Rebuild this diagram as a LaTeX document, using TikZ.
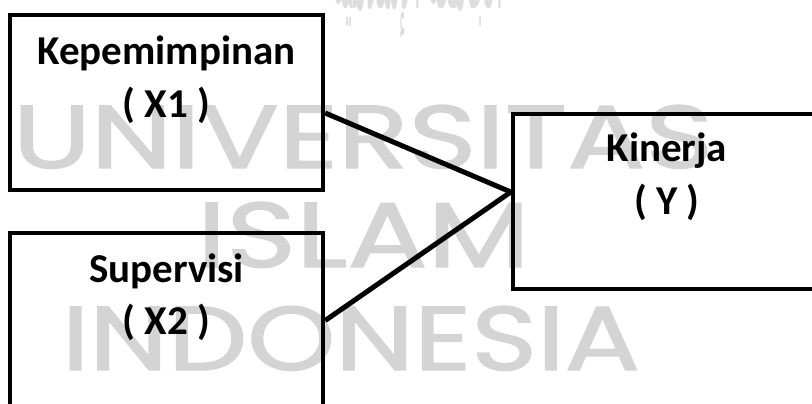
\documentclass[tikz,border=0pt]{standalone}
\usepackage{fontspec}
\setmainfont{Carlito}
\newfontfamily\wmfont[FakeBold=1.5]{Poppins}
\newfontfamily\arabicfont[Script=Arabic]{DejaVu Sans}
\TeXXeTstate=1
\usetikzlibrary{positioning, calc}
\definecolor{wmGray}{HTML}{D4D4D4}
\definecolor{arGray}{HTML}{DDDDDD}

\begin{document}
\begin{tikzpicture}[x=0.5pt, y=-0.5pt,
      var/.style={draw, line width=2.2pt, minimum width=156.5pt, minimum height=87.5pt, inner sep=0pt},
      lbl/.style={font=\fontsize{20.5pt}{23pt}\selectfont\bfseries, anchor=base, inner sep=0pt},
      wm/.style={text=wmGray, font=\wmfont, anchor=base, inner sep=0pt},
      link/.style={line width=2.5pt}]
    \clip (0,0) rectangle (812,403);
    % watermark
    \node[text=arGray, font=\arabicfont, anchor=south, inner sep=0pt] (wmar) at (418,38) {\resizebox{85pt}{46pt}{\beginR الجامعة الإسلامية\endR}};
    \node[wm] (wma) at (363,168) {\resizebox{350pt}{31.5pt}{UNIVERSITAS}};
    \node[wm] (wmb) at (363.5,267) {\resizebox{166.5pt}{32.5pt}{ISLAM}};
    \node[wm] (wmc) at (351,370) {\resizebox{289pt}{32pt}{INDONESIA}};
    % variables
    \node[var] (x1) at (166.5,102.5) {};
    \node[var] (x2) at (166.5,320.5) {};
    \node[var, minimum width=154pt] (y) at (667,201.5) {};
    \node[lbl] (x1name) at ($(x1.north)+(0,52)$) {Kepemimpinan};
    \node[lbl] (x1code) at ($(x1.north)+(0,105)$) {( X1 )};
    \node[lbl] (x2name) at ($(x2.north)+(0,52)$) {Supervisi};
    \node[lbl] (x2code) at ($(x2.north)+(0,104)$) {( X2 )};
    \node[lbl] (yname) at ($(y.north)+(0,50)$) {Kinerja};
    \node[lbl] (ycode) at ($(y.north)+(0,103)$) {( Y )};
    \coordinate (x1out) at ($(x1.east)+(0,10.5)$);
    \coordinate (yin) at ($(y.west)+(0,-9.5)$);
    \draw[link] (x1out) -- (yin);
    \draw[link] (x2.east) -- (yin);
  \end{tikzpicture}
\end{document}
